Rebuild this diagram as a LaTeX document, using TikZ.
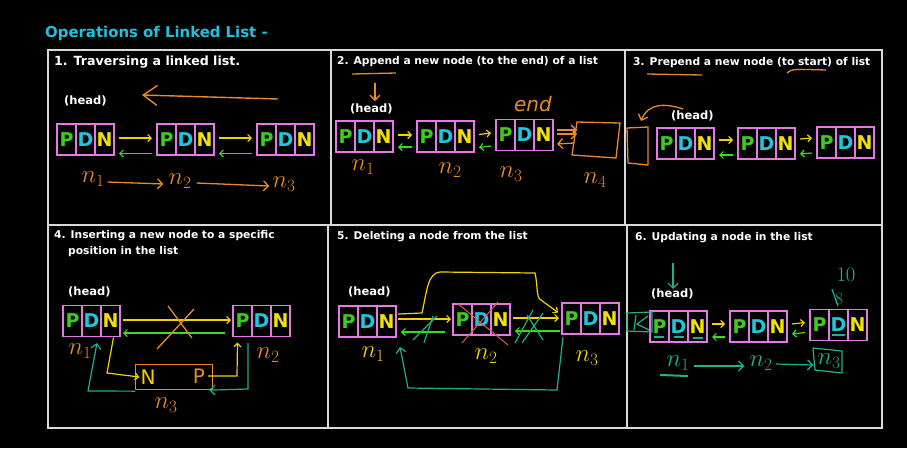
\documentclass[tikz,border=0pt]{standalone}
\usepackage{fontspec}
\setmainfont{DejaVu Sans}
\usetikzlibrary{arrows.meta,calc}
\definecolor{cP}{HTML}{3FCB1E}
\definecolor{cD}{HTML}{1FC6DE}
\definecolor{cN}{HTML}{F2E100}
\definecolor{cPink}{HTML}{E47BE4}
\definecolor{cY}{HTML}{F2D200}
\definecolor{cG}{HTML}{3CDB1C}
\definecolor{cO}{HTML}{E8892B}
\definecolor{cT}{HTML}{1FB08C}
\definecolor{cR}{HTML}{E05A5A}
\definecolor{cTitle}{HTML}{1EC3D9}
\newcommand\pdn[3]{%
  \node[cell,text=cP,anchor=west] (#1p) at (#2,#3) {P};
  \node[cell,text=cD,anchor=west] (#1d) at (#1p.east) {D};
  \node[cell,text=cN,anchor=west] (#1n) at (#1d.east) {N};}
\newcommand\lnk[4]{%
  \draw[yarr] ([xshift=5pt,yshift=#3]#1n.east) -- ([xshift=-5pt,yshift=#3]#2p.west);
  \draw[garr] ([xshift=-5pt,yshift=#4]#2p.west) -- ([xshift=5pt,yshift=#4]#1n.east);}
\begin{document}
\begin{tikzpicture}[x=1pt,y=-1pt,
  cell/.style={draw=cPink,line width=1.3pt,minimum width=19pt,minimum height=31pt,inner sep=0pt,outer sep=0pt,font=\bfseries\fontsize{19}{19}\selectfont},
  hdr/.style={text=white,font=\bfseries\fontsize{10.7}{12}\selectfont,anchor=west,inner sep=0pt},
  hdrbig/.style={hdr,font=\bfseries\fontsize{12.6}{14}\selectfont},
  headlbl/.style={hdr,font=\bfseries\fontsize{11.5}{13}\selectfont},
  hand/.style={font=\fontsize{26}{26}\selectfont,inner sep=1pt},
  hl/.style={font=\fontsize{20}{20}\selectfont,inner sep=0pt},
  yarr/.style={draw=cY,line width=1.2pt,-{Straight Barb[length=3.5pt,width=7pt]}},
  garr/.style={draw=cG,line width=1.2pt,-{Straight Barb[length=3.5pt,width=7pt]}},
  oarr/.style={draw=cO,line width=1.3pt,-{Straight Barb[length=5pt,width=10pt]}},
  obig/.style={draw=cO,line width=1.4pt,-{Straight Barb[length=14pt,width=20pt]}},
  oline/.style={draw=cO,line width=1.3pt},
  tline/.style={draw=cT,line width=1.2pt},
  tarr/.style={draw=cT,line width=1.2pt,-{Straight Barb[length=5pt,width=10pt]}},
  rline/.style={draw=cR,line width=1pt},
  grid/.style={draw=white!85!black,line width=1.5pt}]
\fill[black] (0,0) rectangle (907,448);
\useasboundingbox (0,0) rectangle (907,448);
% title and grid
\node[anchor=west,inner sep=0pt,text=cTitle,font=\bfseries\fontsize{14.9}{17}\selectfont] (title) at (45,33) {Operations of Linked List -};
\draw[grid] (48,50) rectangle (882,428);
\draw[grid] (48,225) -- (882,225);
\draw[grid] (331,50) -- (331,225);
\draw[grid] (625,50) -- (625,225);
\draw[grid] (328,225) -- (328,428);
\draw[grid] (627,225) -- (627,428);

% ---------- panel 1
\node[hdrbig] (h1) at (54,62) {1. Traversing a linked list.};
\node[headlbl] (hd1) at (64,101) {(head)};
\coordinate (t1s) at (278,99); \coordinate (t1e) at (142,95);
\draw[obig] (t1s) -- (t1e);
\pdn{a1}{57}{139.5}
\pdn{a2}{157}{139.5}
\pdn{a3}{257}{139.5}
\lnk{a1}{a2}{1.5pt}{-14pt}
\lnk{a2}{a3}{1.5pt}{-14pt}
\node[hand,text=cO] (m1) at (93,179) {$n_1$};
\node[hand,text=cO] (m2) at (180,181) {$n_2$};
\node[hand,text=cO] (m3) at (284,184) {$n_3$};
\draw[oarr] ([xshift=2pt,yshift=-3pt]m1.east) -- ([xshift=-4pt,yshift=-3pt]m2.west);
\draw[oarr] ([xshift=4pt,yshift=-2pt]m2.east) -- ([xshift=-2pt,yshift=-2pt]m3.west);

% ---------- panel 2
\node[hdr] (h2) at (337,62) {2. Append a new node (to the end) of a list};
\draw[oline] (352,74) -- (396,73);
\coordinate (d2s) at (375,83); \coordinate (d2e) at (375,101);
\draw[oarr] (d2s) -- (d2e);
\node[headlbl] (hd2) at (350,109) {(head)};
\pdn{b1}{336}{136.5}
\pdn{b2}{417}{136.5}
\pdn{b3}{496}{135}
\lnk{b1}{b2}{1.5pt}{-10.5pt}
\lnk{b2}{b3}{2pt}{-11pt}
\node[hand,text=cO,font=\fontsize{20}{20}\selectfont] (endl) at (533,104) {$\mathit{end}$};
\coordinate (q1) at (577,122); \coordinate (q2) at (620,123);
\coordinate (q3) at (616,158); \coordinate (q4) at (572,155);
\draw[oline] (q1) -- (q2) -- (q3) -- (q4) -- cycle;
\draw[oarr] ([xshift=4pt,yshift=5pt]b3n.east) -- ([yshift=5pt]q1|-b3n.east);
\draw[oarr] ([xshift=4pt,yshift=1pt]b3n.east) -- ([yshift=1pt]q1|-b3n.east);
\draw[oarr] ([xshift=-3pt,yshift=-8pt]q1|-b3n.east) -- ([xshift=4pt,yshift=-9pt]b3n.east);
\node[hand,text=cO] (o1) at (363,167) {$n_1$};
\node[hand,text=cO] (o2) at (450,170) {$n_2$};
\node[hand,text=cO] (o3) at (511,174) {$n_3$};
\node[hand,text=cO] (o4) at (595,180) {$n_4$};

% ---------- panel 3
\node[hdr] (h3) at (633,63) {3. Prepend a new node (to start) of list};
\draw[oline] (647,74) -- (702,75);
\draw[oline] (787,73) .. controls (792,69) .. (826,70);
\coordinate (c0s) at (683,109); \coordinate (c0e) at (641,121);
\draw[oarr] (c0s) .. controls (665,103) and (648,103) .. (c0e);
\coordinate (r1) at (627,128); \coordinate (r2) at (648,127);
\coordinate (r3) at (648,165); \coordinate (r4) at (628,163);
\draw[oline] (r1) -- (r2) -- (r3) -- (r4) -- cycle;
\node[headlbl] (hd3) at (671,116) {(head)};
\pdn{c1}{657}{143.5}
\pdn{c2}{738}{143.5}
\pdn{c3}{817}{142.5}
\lnk{c1}{c2}{3.5pt}{-11.5pt}
\lnk{c2}{c3}{4.5pt}{-10.5pt}

% ---------- panel 4
\node[hdr] (h4a) at (54,236) {4. Inserting a new node to a specific};
\node[hdr] (h4b) at (68,252) {position in the list};
\node[headlbl] (hd4) at (68,292) {(head)};
\pdn{d1}{63}{321}
\pdn{d2}{233}{321}
\draw[yarr] ([xshift=3pt,yshift=1pt]d1n.east) -- ([xshift=-2pt,yshift=1pt]d2p.west);
\draw[garr] ([xshift=-8pt,yshift=-12pt]d2p.west) -- ([xshift=3pt,yshift=-12pt]d1n.east);
\draw[oline] (168,306) -- (192,338);
\draw[oline] (194,309) -- (157,349);
\node[draw=cO,line width=1.3pt,minimum width=77pt,minimum height=25pt,inner sep=0pt] (ins) at (174,377) {};
\node[hl,text=cY] (insN) at (148,377) {N};
\node[hl,text=cO] (insP) at (199,376) {P};
\coordinate (k1) at (107,373);
\draw[yarr] ([xshift=3pt,yshift=-1pt]d1n.south) -- (k1) -- ([xshift=-1pt]insN.west);
\coordinate (k2) at (237,376);
\draw[yarr] ([xshift=3pt]insP.east) -- (k2) -- ([xshift=-5pt,yshift=-6pt]d2p.south);
\coordinate (k3) at (88,391); \coordinate (k4) at (97,343);
\draw[tarr] ([yshift=-1pt]ins.south west) -- (k3) -- (k4);
\coordinate (k5) at (248,343); \coordinate (k6) at (248,389);
\draw[tarr] (k5) -- (k6) -- ([xshift=-4pt]ins.south east);
\node[hand,text=cO] (p1) at (80,351) {$n_1$};
\node[hand,text=cO] (p2) at (268,355) {$n_2$};
\node[hand,text=cO] (p3) at (166,405) {$n_3$};

% ---------- panel 5
\node[hdr] (h5) at (337,237) {5. Deleting a node from the list};
\node[headlbl] (hd5) at (348,292) {(head)};
\pdn{e1}{339}{321.5}
\pdn{e2}{453}{319.5}
\pdn{e3}{562}{318.5}
\draw[yarr] ([xshift=2pt,yshift=2.5pt]e1n.east) -- ([xshift=-2pt,yshift=0.5pt]e2p.west);
\coordinate (u1) at (422,313); \coordinate (u2) at (440,272);
\coordinate (u3) at (535,273); \coordinate (u4) at (541,300);
\draw[yarr] ([xshift=2pt,yshift=7.5pt]e1n.east) -- (u1) .. controls (427,290) and (428,273) .. (u2) -- (u3) .. controls (538,286) and (536,298) .. (u4) -- ([xshift=-4pt,yshift=6pt]e3p.west);
\draw[yarr] ([xshift=3pt,yshift=1.5pt]e2n.east) -- ([xshift=-3pt,yshift=0.5pt]e3p.west);
\draw[garr] ([xshift=-8pt,yshift=-12.5pt]e2p.west) -- ([xshift=5pt,yshift=-10.5pt]e1n.east);
\draw[garr] ([xshift=-2pt,yshift=-12.5pt]e3p.west) -- ([xshift=5pt,yshift=-11.5pt]e2n.east);
\draw[tline] (413,340) -- (437,316);
\draw[tline] (424,343) -- (433,316);
\draw[tline] (515,343) -- (533,310);
\draw[tline] (522,343) -- (543,313);
\draw[tline] (527,315) -- (543,340);
\draw[rline] (457,303) -- (508,345);
\draw[rline] (498,302) -- (462,343);
\coordinate (w1) at (557,390); \coordinate (w2) at (408,388); \coordinate (w3) at (400,347);
\draw[tarr] ([xshift=1pt,yshift=-3pt]e3p.south west) -- (w1) -- (w2) -- (w3);
\node[hand,text=cY] (s1) at (373,354) {$n_1$};
\node[hand,text=cY] (s2) at (486,356) {$n_2$};
\node[hand,text=cY] (s3) at (587,358) {$n_3$};

% ---------- panel 6
\node[hdr] (h6) at (635,238) {6. Updating a node in the list};
\coordinate (v1) at (673,263); \coordinate (v2) at (673,289);
\draw[tarr] (v1) -- (v2);
\node[headlbl] (hd6) at (651,294) {(head)};
\pdn{f1}{650}{326.5}
\pdn{f2}{730}{326.5}
\pdn{f3}{810}{325}
\lnk{f1}{f2}{2.5pt}{-10.5pt}
\lnk{f2}{f3}{2.5pt}{-7.5pt}
\draw[tline] (627,313) -- (652,312) -- (652,332) -- (627,331) -- cycle;
\draw[tline] (636,315) -- (634,330);
\draw[tline] (648,316) -- (637,324) -- (649,330);
\draw[tline] (654,337) -- (664,337);
\draw[tline] (674,337) -- (684,337);
\draw[tline] (693,338) -- (703,338);
\draw[tline] (832,335) -- (845,335);
\node[hand,text=cT,font=\fontsize{20}{20}\selectfont] (ten) at (846,275) {$10$};
\node[hand,text=cT,font=\fontsize{19}{19}\selectfont] (eight) at (839,299) {$8$};
\draw[tline] (832,289) -- (838,306);
\node[hand,text=cT] (g1) at (678,363) {$n_1$};
\node[hand,text=cT] (g2) at (761,363) {$n_2$};
\node[hand,text=cT] (g3) at (829,361) {$n_3$};
\draw[tline] (813,348) -- (842,351) -- (842,373) -- (815,370) -- cycle;
\draw[cT,line width=2pt] (660,375) -- (688,376);
\draw[tarr] ([xshift=3pt,yshift=-3pt]g1.east) -- ([xshift=-4pt,yshift=-3pt]g2.west);
\draw[tarr] ([xshift=2pt,yshift=-1pt]g2.east) -- ([xshift=-3pt,yshift=-4pt]g3.west);
\end{tikzpicture}
\end{document}
